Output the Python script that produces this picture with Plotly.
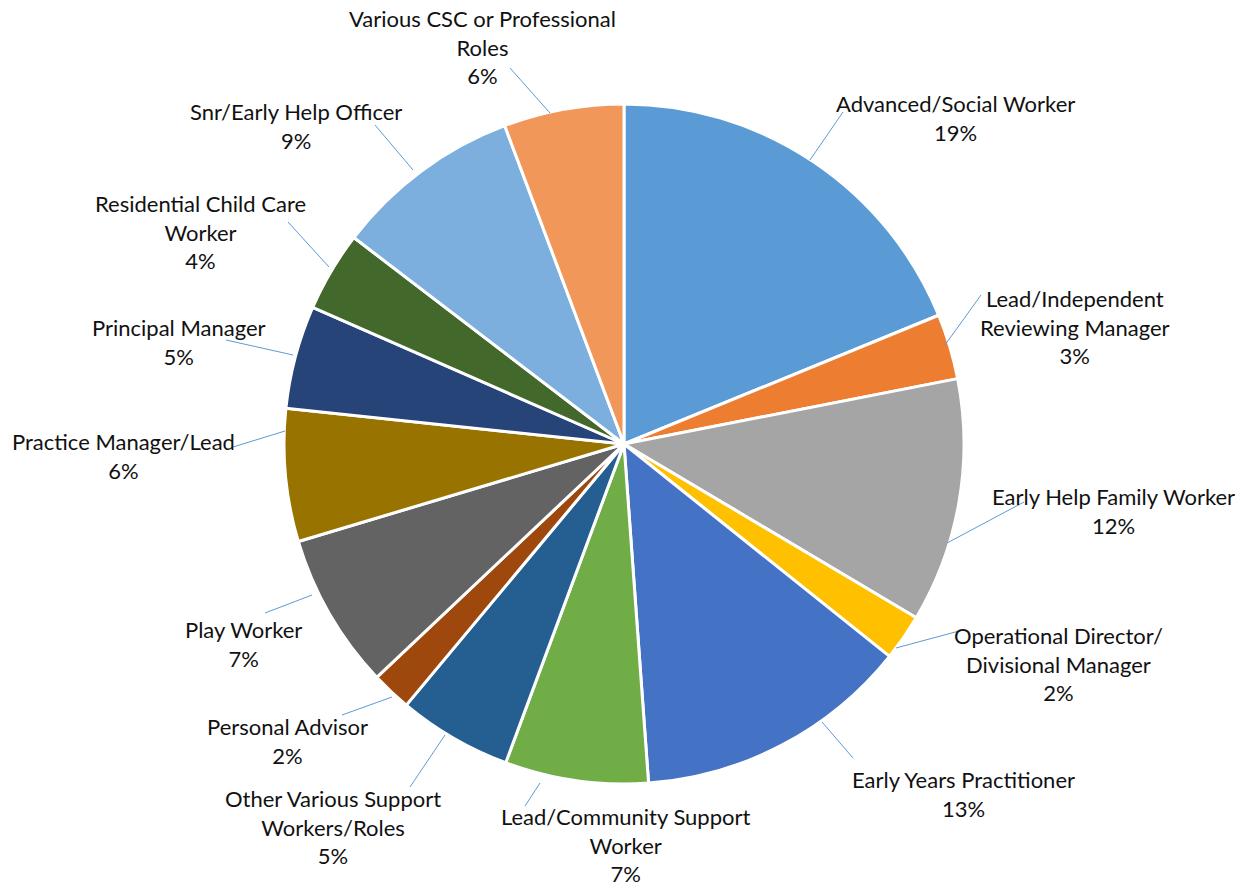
import plotly.graph_objects as go

# ---- data ----
categories = [
    "Advanced/Social Worker",
    "Lead/Independent Reviewing Manager",
    "Early Help Family Worker",
    "Operational Director/ Divisional Manager",
    "Early Years Practitioner",
    "Lead/Community Support Worker",
    "Other Various Support Workers/Roles",
    "Personal Advisor",
    "Play Worker",
    "Practice Manager/Lead",
    "Principal Manager",
    "Residential Child Care Worker",
    "Snr/Early Help Officer",
    "Various CSC or Professional Roles",
]
values = [18.8, 3.1, 11.6, 2.2, 13.1, 6.8, 5.4, 1.9, 7.4, 6.3, 4.9, 3.8, 8.9, 5.7]

# ---- styling / layout (not data) ----
colors = ["#5B9BD5", "#ED7D31", "#A5A5A5", "#FFC000", "#4472C4", "#70AD47",
          "#255E91", "#9E480E", "#636363", "#997300", "#264478", "#43682B",
          "#7CAFDD", "#F1975A"]
display_labels = [
    "Advanced/Social Worker",
    "Lead/Independent<br>Reviewing Manager",
    "Early Help Family Worker",
    "Operational Director/<br>Divisional Manager",
    "Early Years Practitioner",
    "Lead/Community Support<br>Worker",
    "Other Various Support<br>Workers/Roles",
    "Personal Advisor",
    "Play Worker",
    "Practice Manager/Lead",
    "Principal Manager",
    "Residential Child Care<br>Worker",
    "Snr/Early Help Officer",
    "Various CSC or Professional<br>Roles",
]
# label centre (px) of first text line, and leader line (px) start/end
label_px = [(955, 103), (1075, 298), (1113, 496), (1058, 635), (963, 779),
            (626, 816), (333, 798), (287, 726), (243, 629), (123, 441),
            (179, 327), (200, 203), (296, 111), (482, 18)]
leader_px = [((810, 160), (843, 112)), ((945, 345), (981, 295)),
             ((947, 543), (1024, 502)), ((896, 648), (959, 631)),
             ((822, 722), (853, 758)), ((540, 783), (525, 806)),
             ((445, 735), (410, 787)), ((392, 697), (342, 715)),
             ((312, 595), (265, 613)), ((285, 431), (233, 447)),
             ((293, 355), (226, 340)), ((329, 267), (288, 222)),
             ((413, 170), (375, 125)), ((550, 113), (510, 68))]

W, H = 1250, 886
CX, CY, R = 624, 444, 340
FONT_SIZE = 22
LINE_H = 31
FONT = "Lato, Calibri, Carlito, sans-serif"


def px(x, y):
    return x / W, 1 - y / H


total = sum(values)
fig = go.Figure(go.Pie(
    labels=categories,
    values=values,
    sort=False,
    direction="clockwise",
    rotation=0,
    marker=dict(colors=colors, line=dict(color="white", width=3)),
    textinfo="none",
    hoverinfo="label+percent",
    showlegend=False,
    domain=dict(x=[(CX - R) / W, (CX + R) / W], y=[1 - (CY + R) / H, 1 - (CY - R) / H]),
))

for lab, v, (lx, ly), ((x0, y0), (x1, y1)) in zip(display_labels, values, label_px, leader_px):
    pct = f"{round(v / total * 100):d}%"
    text = f"{lab}<br>{pct}"
    top = ly - LINE_H / 2
    xa, ya = px(lx, top)
    fig.add_annotation(x=xa, y=ya, xref="paper", yref="paper", text=text,
                       showarrow=False, xanchor="center", yanchor="top",
                       align="center",
                       font=dict(size=FONT_SIZE, color="#111111", family=FONT))
    ax0, ay0 = px(x0, y0)
    ax1, ay1 = px(x1, y1)
    fig.add_shape(type="line", xref="paper", yref="paper", x0=ax0, y0=ay0, x1=ax1, y1=ay1,
                  line=dict(color="#5B9BD5", width=1))

fig.update_layout(width=W, height=H, margin=dict(l=0, r=0, t=0, b=0),
                  paper_bgcolor="white", plot_bgcolor="white",
                  font=dict(family=FONT))
fig.write_html("out.html")
